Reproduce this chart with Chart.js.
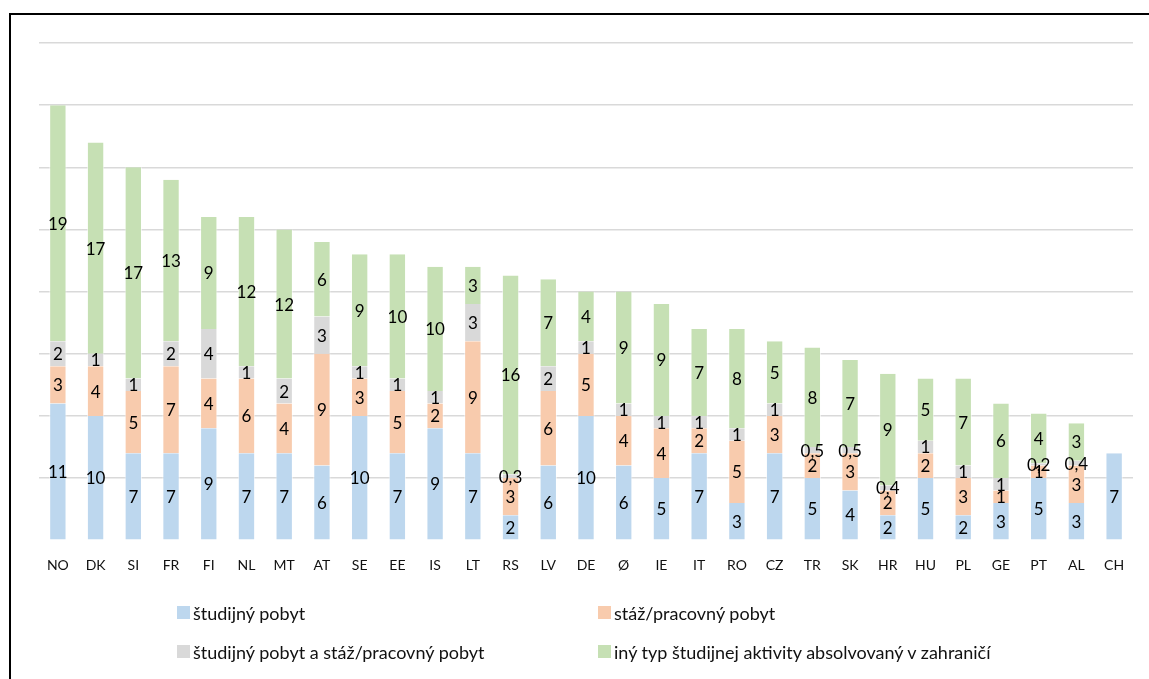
<!DOCTYPE html>
<html lang="sk">
<head>
<meta charset="utf-8">
<title>Typ študijnej aktivity v zahraničí</title>
<script src="https://cdn.jsdelivr.net/npm/chart.js@4/dist/chart.umd.min.js"></script>
<style>
  html, body { margin: 0; padding: 0; background: #fff; }
  #wrap { position: relative; width: 1149px; height: 679px; overflow: hidden; font-family: Lato, sans-serif; }
  #frame { position: absolute; left: 9px; top: 13px; width: 1300px; height: 800px;
           border-left: 2px solid #000; border-top: 2px solid #000; }
  #chartBox { position: absolute; left: 0; top: 0; width: 1149px; height: 679px; }
  .lg-item { position: absolute; font-size: 18px; color: #111; white-space: nowrap; line-height: 18px; }
  .lg-box { position: absolute; left: 0; top: 2px; width: 13px; height: 13px; }
  .lg-text { position: absolute; left: 16px; top: 0; }
</style>
</head>
<body>
<div id="wrap">
  <div id="frame"></div>
  <div id="chartBox"><canvas id="myChart"></canvas></div>
  <div id="legend"></div>
</div>
<script>
// countries, sorted by total share
var countries = ["NO","DK","SI","FR","FI","NL","MT","AT","SE","EE","IS","LT","RS","LV","DE","Ø",
                 "IE","IT","RO","CZ","TR","SK","HR","HU","PL","GE","PT","AL","CH"];

// values per activity type (%)
var studyStay   = [11,10,7,7,9,7,7,6,10,7,9,7,2,6,10,6,5,7,3,7,5,4,2,5,2,3,5,3,7];
var workStay    = [3,4,5,7,4,6,4,9,3,5,2,9,3,6,5,4,4,2,5,3,2,3,2,2,3,1,1,3,0];
var studyAndWork = [2,1,1,2,4,1,2,3,1,1,1,3,0.3,2,1,1,1,1,1,1,0.5,0.5,0.4,1,1,1,0.2,0.4,0];
var otherType   = [19,17,17,13,9,12,12,6,9,10,10,3,16,7,4,9,9,7,8,5,8,7,9,5,7,6,4,3,0];

var seriesNames = [
  "študijný pobyt",
  "stáž/pracovný pobyt",
  "študijný pobyt a stáž/pracovný pobyt",
  "iný typ študijnej aktivity absolvovaný v zahraničí"
];
var seriesColors = ["#BDD7EE", "#F8CBAD", "#D9D9D9", "#C6E0B4"];

var yMax = 40;
var yStep = 5;

// write the value in the middle of each segment
var segmentLabels = {
  id: "segmentLabels",
  afterDatasetsDraw: function(chart) {
    var ctx = chart.ctx;
    ctx.save();
    ctx.font = "17px Lato";
    ctx.fillStyle = "#000";
    ctx.textAlign = "center";
    ctx.textBaseline = "middle";
    chart.data.datasets.forEach(function(ds, i) {
      chart.getDatasetMeta(i).data.forEach(function(bar, j) {
        var v = ds.data[j];
        if (!v) return;
        var y = (bar.y + bar.base) / 2;
        ctx.fillText(String(v).replace(".", ","), bar.x, y + 1);
      });
    });
    ctx.restore();
  }
};

var allSeries = [studyStay, workStay, studyAndWork, otherType];
var datasets = allSeries.map(function(vals, i) {
  return {
    label: seriesNames[i],
    data: vals,
    backgroundColor: seriesColors[i],
    borderColor: "rgba(255,255,255,0.6)",
    borderWidth: { left: 1, right: 1, top: 0, bottom: 0 },
    categoryPercentage: 1.0,
    barPercentage: 0.46
  };
});

var myChart = new Chart(document.getElementById("myChart"), {
  type: "bar",
  data: { labels: countries, datasets: datasets },
  options: {
    responsive: true,
    maintainAspectRatio: false,
    animation: false,
    layout: { padding: { left: 39, right: 16, top: 43, bottom: 96 } },
    plugins: {
      legend: { display: false },
      tooltip: { enabled: false }
    },
    scales: {
      x: {
        stacked: true,
        grid: { display: false },
        border: { display: false },
        ticks: { color: "#111", font: { family: "Lato", size: 14 }, padding: 9, maxRotation: 0, autoSkip: false }
      },
      y: {
        stacked: true,
        min: 0,
        max: yMax,
        border: { display: false },
        grid: {
          drawTicks: false,
          lineWidth: 1.5,
          color: function(c) { return c.tick && c.tick.value === 0 ? "rgba(0,0,0,0)" : "#D9D9D9"; }
        },
        ticks: { display: false, stepSize: yStep }
      }
    }
  },
  plugins: [segmentLabels]
});

// two-column legend under the chart
var legendPos = [[177, 604], [598, 604], [177, 643], [598, 643]];
var legendEl = document.getElementById("legend");
myChart.data.datasets.forEach(function(ds, i) {
  var item = document.createElement("div");
  item.className = "lg-item";
  item.style.left = legendPos[i][0] + "px";
  item.style.top = legendPos[i][1] + "px";
  item.innerHTML = '<span class="lg-box" style="background:' + ds.backgroundColor + '"></span>' +
                   '<span class="lg-text">' + ds.label + '</span>';
  legendEl.appendChild(item);
});
</script>
</body>
</html>
